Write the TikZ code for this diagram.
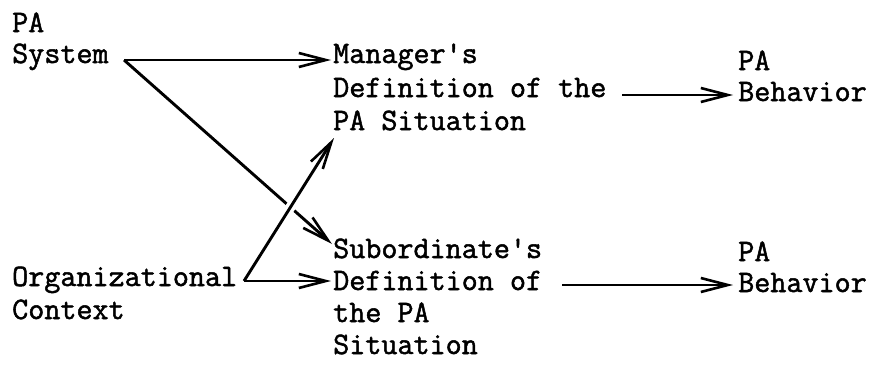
\documentclass[tikz,border=0pt]{standalone}
\usepackage{fontspec}
\newfontfamily\twfont[FakeBold=1.6]{Latin Modern Mono}
\usetikzlibrary{arrows.meta,calc}
\begin{document}
\begin{tikzpicture}[x=1pt,y=1pt,
  txt/.style={anchor=base west,inner sep=0pt,font=\fontsize{31.2}{33}\selectfont\twfont},
  arr/.style={line width=2.9pt,-{Straight Barb[length=27pt,width=14pt,line width=2.6pt]}}]
\useasboundingbox (0,0) rectangle (872,-364);
% text
\node[txt] (pa1) at (12,-32) {PA};
\node[txt] (sys) at (12,-63) {System};
\node[txt] (man1) at (333,-63) {Manager's};
\node[txt] (man2) at (333,-97) {Definition of the};
\node[txt] (man3) at (333,-130) {PA Situation};
\node[txt] (bpa1) at (738,-70) {PA};
\node[txt] (beh1) at (738,-101) {Behavior};
\node[txt] (sub1) at (333,-258) {Subordinate's};
\node[txt] (sub2) at (333,-290) {Definition of};
\node[txt] (sub3) at (333,-322) {the PA};
\node[txt] (sub4) at (333,-354) {Situation};
\node[txt] (bpa2) at (738,-261) {PA};
\node[txt] (beh2) at (738,-292) {Behavior};
\node[txt] (org1) at (12,-286) {Organizational};
\node[txt] (org2) at (12,-319) {Context};
% connector points
\coordinate (sr) at (124,-60);
\coordinate (mt) at (331,-60);
\coordinate (st) at (332,-244);
\coordinate (oc) at (244,-281);
\coordinate (m3) at (334,-138);
\coordinate (s2) at (331,-281);
\coordinate (m2r) at (622,-95);
\coordinate (b1l) at (733,-95);
\coordinate (s2r) at (562,-285);
\coordinate (b2l) at (733,-285);
% connectors
\draw[arr] (sr) -- (mt);
\draw[arr] (sr) -- (st);
\draw[arr, preaction={draw=white,line width=10pt,-,shorten <=40pt,shorten >=40pt}] (oc) -- (m3);
\draw[arr] (oc) -- (s2);
\draw[arr] (m2r) -- (b1l);
\draw[arr] (s2r) -- (b2l);
\end{tikzpicture}
\end{document}
